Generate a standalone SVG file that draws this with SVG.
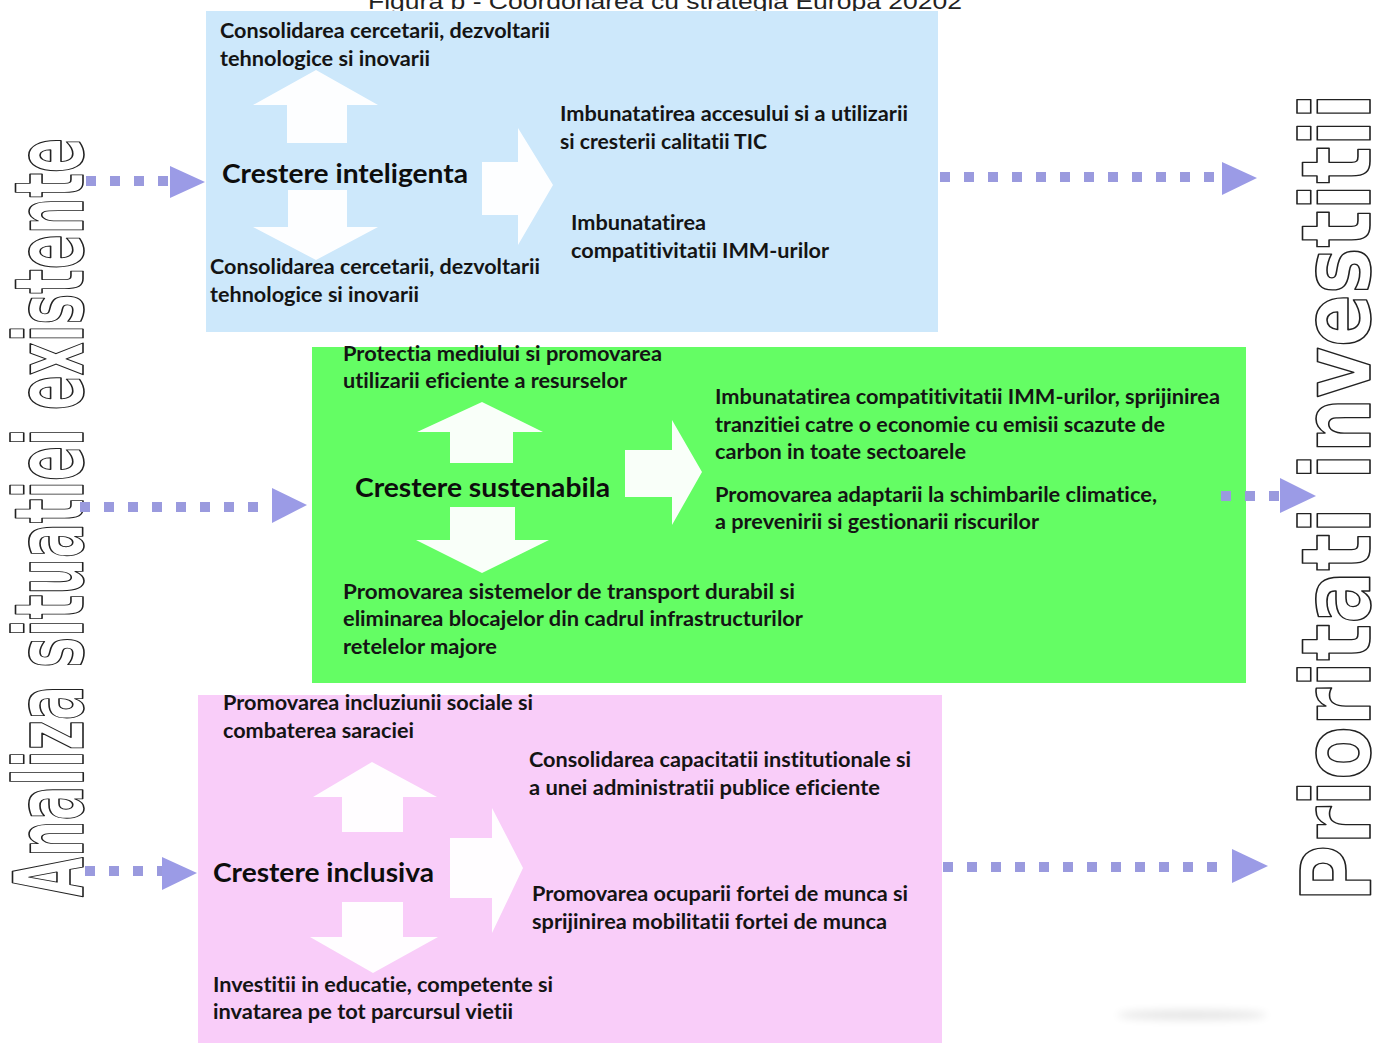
<svg xmlns="http://www.w3.org/2000/svg" width="1373" height="1043" viewBox="0 0 1373 1043">
<defs>
<style>
text{font-variant-ligatures:none;font-feature-settings:"liga" 0,"dlig" 0,"clig" 0}
.t{font-family:Lato,"Liberation Sans",sans-serif;font-weight:700;font-size:20px;fill:#141414}
.h{font-family:Lato,"Liberation Sans",sans-serif;font-weight:700;font-size:27px;fill:#0d0d0d}
.ttl{font-family:"Liberation Sans",Arial,sans-serif;font-size:22px;fill:#222}
.vt{font-family:"DejaVu Sans",Verdana,sans-serif;font-weight:700;font-size:96px;fill:#fff;stroke:#222;stroke-width:1.6;stroke-linejoin:round}
.ba{fill:#fff;opacity:0.96}
.dash{stroke:#9a9ade;stroke-width:10;fill:none;stroke-dasharray:10 14}
.head{fill:#9b9be6}
</style>
<filter id="blur" x="-20%" y="-100%" width="140%" height="300%"><feGaussianBlur stdDeviation="4"/></filter>
</defs>
<rect width="1373" height="1043" fill="#fff"/>
<text class="ttl" x="368" y="9" textLength="594" lengthAdjust="spacingAndGlyphs">Figura b - Coordonarea cu strategia Europa 20202</text>

<g id="inteligenta">
<rect x="206" y="11" width="732" height="321" fill="#cde8fb"/>
<polygon class="ba" points="287,143 287,105 253,105 316,70 378,105 347,105 347,143"/>
<polygon class="ba" points="288,190 347,190 347,227 378,227 316,260 253,227 288,227"/>
<polygon class="ba" points="482,162 518,162 518,128 553,185 518,245 518,215 482,215"/>
<text class="t" x="220" y="38" textLength="330" lengthAdjust="spacingAndGlyphs">Consolidarea cercetarii, dezvoltarii</text>
<text class="t" x="220" y="66" textLength="210" lengthAdjust="spacingAndGlyphs">tehnologice si inovarii</text>
<text class="h" x="222" y="183" textLength="246" lengthAdjust="spacingAndGlyphs">Crestere inteligenta</text>
<text class="t" x="210" y="274" textLength="330" lengthAdjust="spacingAndGlyphs">Consolidarea cercetarii, dezvoltarii</text>
<text class="t" x="210" y="302" textLength="209" lengthAdjust="spacingAndGlyphs">tehnologice si inovarii</text>
<text class="t" x="560" y="121" textLength="348" lengthAdjust="spacingAndGlyphs">Imbunatatirea accesului si a utilizarii</text>
<text class="t" x="560" y="149" textLength="207" lengthAdjust="spacingAndGlyphs">si cresterii calitatii TIC</text>
<text class="t" x="571" y="230" textLength="135" lengthAdjust="spacingAndGlyphs">Imbunatatirea</text>
<text class="t" x="571" y="258" textLength="258" lengthAdjust="spacingAndGlyphs">compatitivitatii IMM-urilor</text>
</g>

<g id="sustenabila">
<rect x="312" y="347" width="934" height="336" fill="#64fd64"/>
<polygon class="ba" points="450,463 450,432 417,432 482,402 543,432 513,432 513,463"/>
<polygon class="ba" points="450,507 515,507 515,540 549,540 482,573 416,540 450,540"/>
<polygon class="ba" points="625,450 672,450 672,420 702,472 672,525 672,497 625,497"/>
<text class="t" x="343" y="361" textLength="319" lengthAdjust="spacingAndGlyphs">Protectia mediului si promovarea</text>
<text class="t" x="343" y="388" textLength="284" lengthAdjust="spacingAndGlyphs">utilizarii eficiente a resurselor</text>
<text class="h" x="355" y="497" textLength="255" lengthAdjust="spacingAndGlyphs">Crestere sustenabila</text>
<text class="t" x="343" y="599" textLength="452" lengthAdjust="spacingAndGlyphs">Promovarea sistemelor de transport durabil si</text>
<text class="t" x="343" y="626" textLength="460" lengthAdjust="spacingAndGlyphs">eliminarea blocajelor din cadrul infrastructurilor</text>
<text class="t" x="343" y="654" textLength="154" lengthAdjust="spacingAndGlyphs">retelelor majore</text>
<text class="t" x="715" y="404" textLength="505" lengthAdjust="spacingAndGlyphs">Imbunatatirea compatitivitatii IMM-urilor, sprijinirea</text>
<text class="t" x="715" y="432" textLength="450" lengthAdjust="spacingAndGlyphs">tranzitiei catre o economie cu emisii scazute de</text>
<text class="t" x="715" y="459" textLength="251" lengthAdjust="spacingAndGlyphs">carbon in toate sectoarele</text>
<text class="t" x="715" y="502" textLength="442" lengthAdjust="spacingAndGlyphs">Promovarea adaptarii la schimbarile climatice,</text>
<text class="t" x="715" y="529" textLength="324" lengthAdjust="spacingAndGlyphs">a prevenirii si gestionarii riscurilor</text>
</g>

<g id="inclusiva">
<rect x="198" y="695" width="744" height="348" fill="#f9cdf9"/>
<polygon class="ba" points="342,832 342,797 313,797 372,762 437,797 403,797 403,832"/>
<polygon class="ba" points="342,902 403,902 403,937 438,937 373,973 310,937 342,937"/>
<polygon class="ba" points="450,838 492,838 492,808 523,868 492,933 492,898 450,898"/>
<text class="t" x="223" y="710" textLength="310" lengthAdjust="spacingAndGlyphs">Promovarea incluziunii sociale si</text>
<text class="t" x="223" y="738" textLength="191" lengthAdjust="spacingAndGlyphs">combaterea saraciei</text>
<text class="h" x="213" y="882" textLength="221" lengthAdjust="spacingAndGlyphs">Crestere inclusiva</text>
<text class="t" x="213" y="992" textLength="340" lengthAdjust="spacingAndGlyphs">Investitii in educatie, competente si</text>
<text class="t" x="213" y="1019" textLength="300" lengthAdjust="spacingAndGlyphs">invatarea pe tot parcursul vietii</text>
<text class="t" x="529" y="767" textLength="382" lengthAdjust="spacingAndGlyphs">Consolidarea capacitatii institutionale si</text>
<text class="t" x="529" y="795" textLength="351" lengthAdjust="spacingAndGlyphs">a unei administratii publice eficiente</text>
<text class="t" x="532" y="901" textLength="376" lengthAdjust="spacingAndGlyphs">Promovarea ocuparii fortei de munca si</text>
<text class="t" x="532" y="929" textLength="355" lengthAdjust="spacingAndGlyphs">sprijinirea mobilitatii fortei de munca</text>
</g>

<g id="analiza">
<text class="vt" x="83" y="897" transform="rotate(-90 83 897)" textLength="759" lengthAdjust="spacingAndGlyphs">Analiza situatiei existente</text>
</g>
<g id="prioritati">
<text class="vt" x="1370" y="902" transform="rotate(-90 1370 902)" textLength="809" lengthAdjust="spacingAndGlyphs">Prioritati investitii</text>
</g>

<ellipse cx="1192" cy="1015" rx="75" ry="5" fill="#000" opacity="0.1" filter="url(#blur)"/>

<g id="connectors">
<line class="dash" x1="86" y1="181" x2="168" y2="181"/>
<polygon class="head" points="170,166 205,182 170,198"/>
<line class="dash" x1="80" y1="507" x2="262" y2="507"/>
<polygon class="head" points="272,488 307,505 272,523"/>
<line class="dash" x1="85" y1="871" x2="165" y2="871"/>
<polygon class="head" points="162,857 197,873 162,890"/>
<line class="dash" x1="940" y1="177" x2="1215" y2="177"/>
<polygon class="head" points="1222,162 1257,178 1222,195"/>
<line class="dash" x1="1221" y1="496" x2="1279" y2="496"/>
<polygon class="head" points="1280,478 1316,496 1280,513"/>
<line class="dash" x1="943" y1="867" x2="1218" y2="867"/>
<polygon class="head" points="1232,849 1268,866 1232,883"/>
</g>
</svg>
